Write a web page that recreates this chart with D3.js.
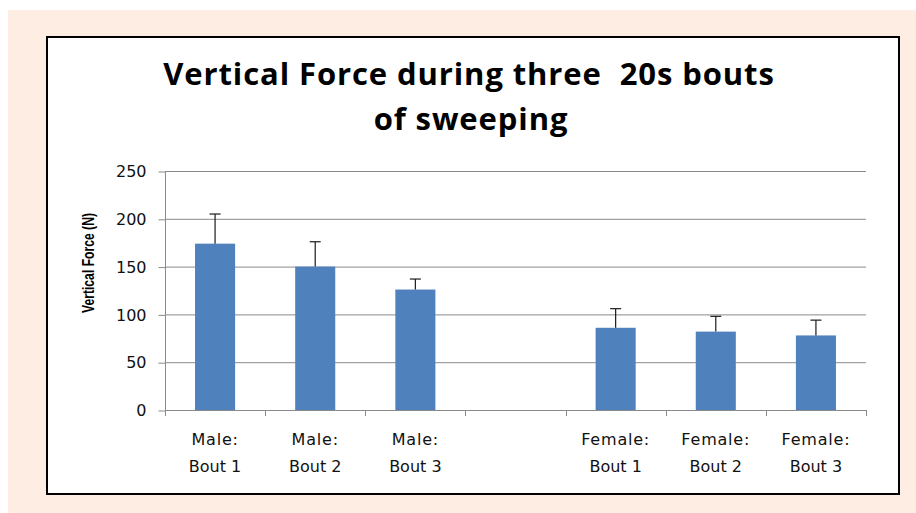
<!DOCTYPE html>
<html>
<head>
<meta charset="utf-8">
<script src="https://cdn.jsdelivr.net/npm/d3@7"></script>
<style>
  html, body { margin: 0; padding: 0; background: #ffffff; }
  svg { display: block; }
</style>
</head>
<body>
<svg id="chart" width="916" height="513"></svg>
<script>
// categories: line 1 / line 2 of each label ("" = empty gap slot)
var catLine1 = ["Male:", "Male:", "Male:", "", "Female:", "Female:", "Female:"];
var catLine2 = ["Bout 1", "Bout 2", "Bout 3", "", "Bout 1", "Bout 2", "Bout 3"];
var forceValues = [174, 150, 126, null, 86, 82, 78];
var errValues = [31, 26, 11, null, 20, 16, 16];
var yTicks = [0, 50, 100, 150, 200, 250];

var svg = d3.select("#chart");

// page background + chart frame
svg.append("rect").attr("x", 8).attr("y", 10).attr("width", 908).attr("height", 503)
    .attr("fill", "#fdede3");
svg.append("rect").attr("x", 47).attr("y", 37).attr("width", 852).attr("height", 457)
    .attr("fill", "#ffffff").attr("stroke", "#000000").attr("stroke-width", 2);

var idx = d3.range(catLine1.length);

var x = d3.scaleBand()
    .domain(idx)
    .range([165, 866])
    .paddingInner(0.6)
    .paddingOuter(0.3);

var y = d3.scaleLinear()
    .domain([0, 250])
    .range([410, 171]);

// gridlines
svg.append("g")
    .selectAll("line")
    .data(yTicks.slice(1))
    .join("line")
    .attr("x1", 165).attr("x2", 866)
    .attr("y1", function(d) { return y(d) + 0.5; })
    .attr("y2", function(d) { return y(d) + 0.5; })
    .attr("stroke", "#8a8a8a").attr("stroke-width", 1);

// y axis
var yAxis = svg.append("g")
    .attr("transform", "translate(165.5,0.5)")
    .call(d3.axisLeft(y).tickValues(yTicks).tickSize(7).tickPadding(12));
yAxis.select(".domain").attr("stroke", "#8a8a8a").attr("d", "M0," + y(0) + "V" + y(250));
yAxis.selectAll(".tick line").attr("stroke", "#8a8a8a");
yAxis.selectAll("text")
    .attr("font-family", "DejaVu Sans").attr("font-size", 16).attr("fill", "#111111");

// x axis line + ticks between categories
svg.append("line")
    .attr("x1", 165).attr("x2", 866).attr("y1", 410.5).attr("y2", 410.5)
    .attr("stroke", "#8a8a8a");
svg.append("g")
    .selectAll("line")
    .data(d3.range(catLine1.length + 1))
    .join("line")
    .attr("x1", function(d) { return Math.round(165 + d * (866 - 165) / catLine1.length) + 0.5; })
    .attr("x2", function(d) { return Math.round(165 + d * (866 - 165) / catLine1.length) + 0.5; })
    .attr("y1", 410).attr("y2", 416)
    .attr("stroke", "#8a8a8a");

// bars
var barData = idx.filter(function(i) { return forceValues[i] != null; });
svg.append("g")
    .selectAll("rect")
    .data(barData)
    .join("rect")
    .attr("x", function(i) { return x(i); })
    .attr("y", function(i) { return y(forceValues[i]); })
    .attr("width", x.bandwidth())
    .attr("height", function(i) { return y(0) - y(forceValues[i]); })
    .attr("fill", "#4f81bd");

// error bars (upper only)
var err = svg.append("g").attr("stroke", "#1a1a1a").attr("stroke-width", 1.2);
err.selectAll("line.v")
    .data(barData)
    .join("line")
    .attr("class", "v")
    .attr("x1", function(i) { return x(i) + x.bandwidth() / 2; })
    .attr("x2", function(i) { return x(i) + x.bandwidth() / 2; })
    .attr("y1", function(i) { return y(forceValues[i]); })
    .attr("y2", function(i) { return y(forceValues[i] + errValues[i]); });
err.selectAll("line.cap")
    .data(barData)
    .join("line")
    .attr("class", "cap")
    .attr("x1", function(i) { return x(i) + x.bandwidth() / 2 - 5.5; })
    .attr("x2", function(i) { return x(i) + x.bandwidth() / 2 + 5.5; })
    .attr("y1", function(i) { return y(forceValues[i] + errValues[i]); })
    .attr("y2", function(i) { return y(forceValues[i] + errValues[i]); });

// category labels
var labels = svg.append("g")
    .attr("font-family", "DejaVu Sans").attr("font-size", 16).attr("fill", "#111111")
    .attr("text-anchor", "middle");
labels.selectAll("text.l1")
    .data(idx)
    .join("text")
    .attr("class", "l1")
    .attr("x", function(i) { return x(i) + x.bandwidth() / 2; })
    .attr("y", 445)
    .attr("letter-spacing", 0.8)
    .text(function(i) { return catLine1[i]; });
labels.selectAll("text.l2")
    .data(idx)
    .join("text")
    .attr("class", "l2")
    .attr("x", function(i) { return x(i) + x.bandwidth() / 2; })
    .attr("y", 472)
    .text(function(i) { return catLine2[i]; });

// title
var title = svg.append("text")
    .attr("font-family", "Open Sans").attr("font-weight", "bold").attr("font-size", 31)
    .attr("letter-spacing", 0.9)
    .attr("fill", "#000000").attr("text-anchor", "middle")
    .style("white-space", "pre");
title.append("tspan").attr("x", 469).attr("y", 85).text("Vertical Force during three  20s bouts");
title.append("tspan").attr("x", 471).attr("y", 130).text("of sweeping");

// y axis title
svg.append("text")
    .attr("transform", "translate(94,263) rotate(-90)")
    .attr("font-family", "Liberation Sans").attr("font-weight", "bold").attr("font-size", 16.5)
    .attr("text-anchor", "middle").attr("fill", "#000000")
    .attr("textLength", 100).attr("lengthAdjust", "spacingAndGlyphs")
    .text("Vertical Force (N)");
</script>
</body>
</html>
